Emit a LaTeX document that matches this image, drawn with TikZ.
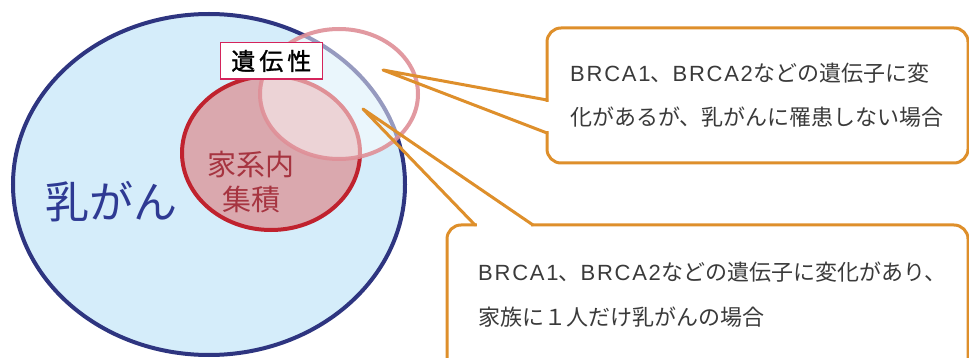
\documentclass[tikz,border=0pt]{standalone}
\usepackage{fontspec}
\setmainfont{Noto Sans CJK JP}
\newfontfamily\jpbold{Noto Sans CJK JP}[FakeBold=1.2]
\newfontfamily\latinpart{Liberation Sans}[LetterSpace=8]
\newcommand{\brca}[1]{{\latinpart #1}}
\definecolor{navy}{HTML}{2E3580}
\definecolor{navytext}{HTML}{2E3A93}
\definecolor{skyfill}{HTML}{D5EDFA}
\definecolor{redline}{HTML}{C0222E}
\definecolor{redfill}{HTML}{DAA8AE}
\definecolor{redtext}{HTML}{A63440}
\definecolor{pinkline}{HTML}{DF8F97}
\definecolor{labelline}{HTML}{D4245B}
\definecolor{callout}{HTML}{DE8F2B}
\definecolor{bodytext}{HTML}{3A3A3A}
\tikzset{
  calloutbox/.style={draw=callout, line width=3pt, fill=white, rounded corners=14pt},
  pointer/.style={draw=callout, line width=3pt, line join=round, line cap=round},
  erase/.style={draw=white, line width=4pt},
  bodyline/.style={text=bodytext, font=\fontsize{22}{24}\selectfont, anchor=west, inner sep=0pt},
}
\begin{document}
\begin{tikzpicture}[x=1pt,y=-1pt]
\useasboundingbox (0,0) rectangle (969,358);
\clip (0,0) rectangle (969,358);
% breast cancer ellipse
\draw[navy, line width=4pt, fill=skyfill] (209,184.5) ellipse [x radius=196pt, y radius=170.5pt];
% familial clustering ellipse
\draw[redline, line width=4pt, fill=redfill] (271,153) ellipse [x radius=89pt, y radius=77pt];
% hereditary ellipse
\fill[white, fill opacity=0.5] (339,94) ellipse [x radius=79pt, y radius=65pt];
\draw[pinkline, line width=4pt, draw opacity=0.9] (339,94) ellipse [x radius=79pt, y radius=65pt];
% texts in Venn diagram
\node[text=navytext, font=\fontsize{44}{48}\selectfont, inner sep=0pt] (nyugan) at (111,202) {乳がん};
\node[text=redtext, font=\fontsize{29}{35}\selectfont, inner sep=0pt] (kakei1) at (251,164.5) {家系内};
\node[text=redtext, font=\fontsize{29}{35}\selectfont, inner sep=0pt] (kakei2) at (251,199.5) {集積};
\node[draw=labelline, line width=1.5pt, fill=white, minimum width=102pt, minimum height=36.5pt, inner sep=0pt,
      font=\jpbold\fontsize{24}{26}\selectfont, text=black] (iden) at (271.3,61) {遺\hspace{4pt}伝\hspace{4pt}性};
% tip coordinates
\coordinate (tipA) at (383,70);
\coordinate (tipB) at (363,109);
% upper callout
\draw[calloutbox] (547,28) rectangle (968,163);
\coordinate (a1) at (547,100);
\coordinate (a2) at (547,133);
\draw[erase] (547,102) -- (547,131);
\draw[pointer] (a1) -- (tipA) -- (a2);
\node[bodyline] (t1) at (570,73) {\brca{BRCA1}、\brca{BRCA2}などの遺伝子に変};
\node[bodyline] (t2) at (570,117) {化があるが、乳がんに罹患しない場合};
% lower callout
\draw[calloutbox] (447,225) rectangle (968,400);
\coordinate (b1) at (475,225);
\coordinate (b2) at (533,225);
\draw[erase] (477,225) -- (531,225);
\draw[pointer] (b1) -- (tipB) -- (b2);
\node[bodyline] (t3) at (478,272) {\brca{BRCA1}、\brca{BRCA2}などの遺伝子に変化があり、};
\node[bodyline] (t4) at (478,317) {家族に１人だけ乳がんの場合};
\end{tikzpicture}
\end{document}
